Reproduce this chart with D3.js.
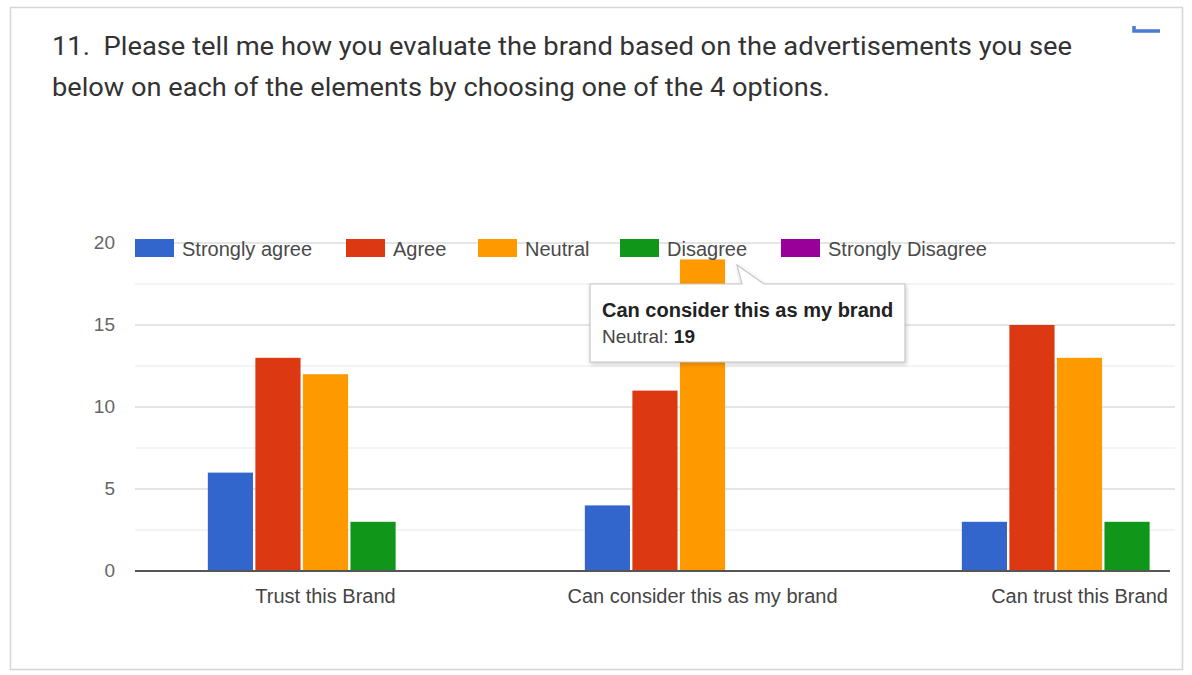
<!DOCTYPE html>
<html>
<head>
<meta charset="utf-8">
<script src="https://cdn.jsdelivr.net/npm/d3@7"></script>
<style>
  html, body { margin: 0; padding: 0; background: #fff; }
  svg { display: block; }
</style>
</head>
<body>
<svg id="chart" width="1192" height="675"></svg>
<script>
// Survey question 11 — responses per statement
const categories = ["Trust this Brand", "Can consider this as my brand", "Can trust this Brand"];
const seriesNames = ["Strongly agree", "Agree", "Neutral", "Disagree", "Strongly Disagree"];
const stronglyAgree   = [6, 4, 3];
const agree           = [13, 11, 15];
const neutral         = [12, 19, 13];
const disagree        = [3, 0, 3];
const stronglyDisagree = [0, 0, 0];
const seriesValues = [stronglyAgree, agree, neutral, disagree, stronglyDisagree];
const yTicks = [0, 5, 10, 15, 20];
const yMinorTicks = [2.5, 7.5, 12.5, 17.5];
const colors = ["#3366cc", "#dc3912", "#ff9900", "#109618", "#990099"];
const titleLines = [
  "11.  Please tell me how you evaluate the brand based on the advertisements you see",
  "below on each of the elements by choosing one of the 4 options."
];
const tooltipTitle = "Can consider this as my brand";
const tooltipSeries = "Neutral";
const tooltipValue = neutral[1];

const svg = d3.select("#chart");
const axisFont = "'Liberation Sans', Arial, sans-serif";

// card frame
svg.append("rect").attr("x", 10.5).attr("y", 7.5).attr("width", 1172).attr("height", 662)
  .attr("fill", "#fff").attr("stroke", "#d6d6d6").attr("stroke-width", 1.5);

// question title
titleLines.forEach((t, i) => {
  svg.append("text")
    .attr("x", 52).attr("y", 55 + i * 41)
    .attr("font-family", "Roboto, 'Noto Sans', sans-serif")
    .attr("font-size", 26)
    .attr("fill", "#333")
    .style("white-space", "pre")
    .attr("textLength", i === 0 ? 1020 : 778)
    .attr("lengthAdjust", "spacingAndGlyphs")
    .text(t);
});

// small corner mark
svg.append("path").attr("d", "M1134,26 L1134,31 L1160,31")
  .attr("fill", "none").attr("stroke", "#4a7bd0").attr("stroke-width", 3.5);

// scales
const plotLeft = 135, plotRight = 1175;
const y = d3.scaleLinear().domain([0, 20]).range([571, 243]);
const x0 = d3.scaleBand().domain(categories).range([137, 1268]).padding(0);
const x1 = d3.scaleBand().domain(seriesNames).range([0, x0.bandwidth()])
  .paddingInner(0.05).paddingOuter(1.49);

svg.append("defs").append("clipPath").attr("id", "plotClip")
  .append("rect").attr("x", plotLeft).attr("y", 200).attr("width", plotRight - plotLeft).attr("height", 380);

// gridlines
svg.append("g").selectAll("line").data(yMinorTicks).join("line")
  .attr("x1", plotLeft).attr("x2", plotRight)
  .attr("y1", d => y(d)).attr("y2", d => y(d))
  .attr("stroke", "#f0f0f0").attr("stroke-width", 1.5);
svg.append("g").selectAll("line").data(yTicks.filter(d => d > 0)).join("line")
  .attr("x1", plotLeft).attr("x2", plotRight)
  .attr("y1", d => y(d)).attr("y2", d => y(d))
  .attr("stroke", "#dcdcdc").attr("stroke-width", 1.5);

// y axis labels
const yAxis = d3.axisLeft(y).tickValues(yTicks).tickSize(0).tickPadding(0);
const gy = svg.append("g").attr("transform", "translate(115,0)").call(yAxis);
gy.select(".domain").remove();
gy.selectAll("text").attr("font-family", axisFont).attr("font-size", 19).attr("fill", "#666")
  .attr("dy", "0.3em");

// bars
const bars = svg.append("g").attr("clip-path", "url(#plotClip)");
categories.forEach((c, ci) => {
  seriesNames.forEach((s, si) => {
    const v = seriesValues[si][ci];
    bars.append("rect")
      .attr("x", x0(c) + x1(s))
      .attr("y", y(v))
      .attr("width", x1.bandwidth())
      .attr("height", y(0) - y(v))
      .attr("fill", colors[si]);
  });
});

// baseline
svg.append("line").attr("x1", plotLeft).attr("x2", plotRight - 5)
  .attr("y1", y(0)).attr("y2", y(0)).attr("stroke", "#555").attr("stroke-width", 2);

// x axis labels
const xAxis = d3.axisBottom(x0).tickSize(0).tickPadding(0);
const gx = svg.append("g").attr("transform", `translate(0,${y(0) + 32})`).call(xAxis);
gx.select(".domain").remove();
gx.selectAll("text").attr("font-family", axisFont).attr("font-size", 20).attr("fill", "#444")
  .attr("dy", 0);

// legend
const legendX = [135, 346, 478, 620, 781];
const lg = svg.append("g");
seriesNames.forEach((s, i) => {
  lg.append("rect").attr("x", legendX[i]).attr("y", 239).attr("width", 39).attr("height", 18)
    .attr("fill", colors[i]);
  lg.append("text").attr("x", legendX[i] + 47).attr("y", 256)
    .attr("font-family", axisFont).attr("font-size", 20).attr("fill", "#4a4a4a")
    .text(s);
});

// tooltip
const tip = svg.append("g");
tip.append("path")
  .attr("d", "M590,284 L742,284 L737,265 L764,284 L905,284 L905,362 L590,362 Z")
  .attr("fill", "#fff").attr("stroke", "#c8c8c8").attr("stroke-width", 1.2)
  .style("filter", "drop-shadow(1px 2px 2px rgba(0,0,0,0.18))");
tip.append("text").attr("x", 602).attr("y", 317)
  .attr("font-family", axisFont).attr("font-size", 20).attr("font-weight", "bold").attr("fill", "#222")
  .text(tooltipTitle);
const t2 = tip.append("text").attr("x", 602).attr("y", 343)
  .attr("font-family", axisFont).attr("font-size", 19).attr("fill", "#444");
t2.append("tspan").text(tooltipSeries + ": ");
t2.append("tspan").attr("font-weight", "bold").attr("fill", "#222").text(tooltipValue);
</script>
</body>
</html>
